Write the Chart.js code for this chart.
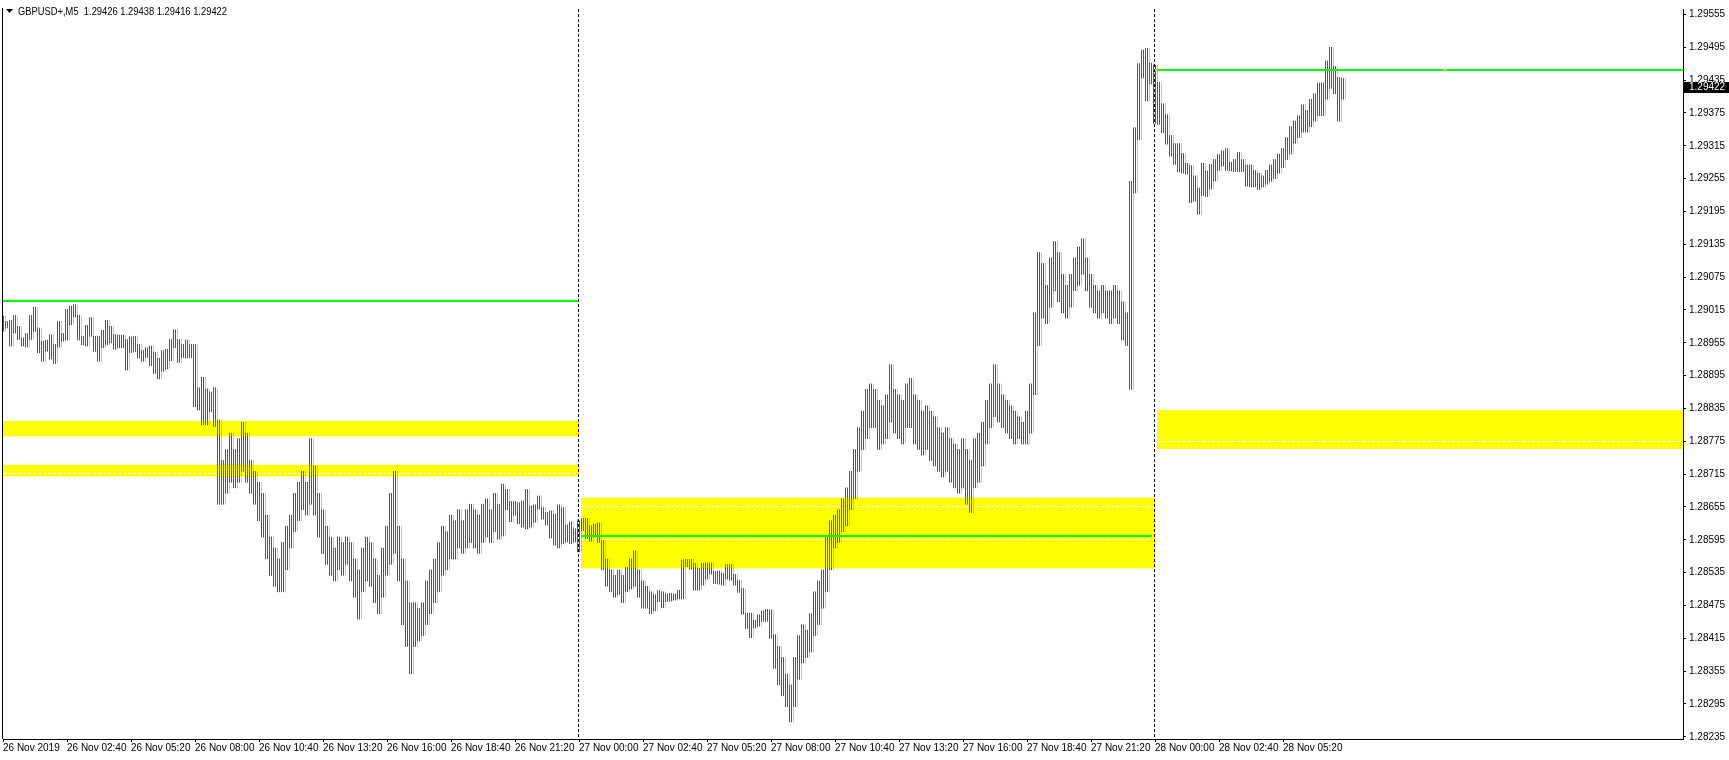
<!DOCTYPE html>
<html><head><meta charset="utf-8">
<script src="https://cdn.jsdelivr.net/npm/chart.js@4.4.1/dist/chart.umd.min.js"></script>
<style>html,body{margin:0;padding:0;background:#fff;overflow:hidden}</style>
</head><body>
<canvas id="c" width="1729" height="760"></canvas>
<script>
// ---- data (10-minute bars, 26 Nov 2019 00:00 onwards) ----
const barHigh = [
1.29004,1.28994,1.28996,1.29005,1.28985,1.28964,1.28972,1.29005,1.29020,1.28982,
1.28958,1.28960,1.28970,1.28952,1.28994,1.28972,1.29016,1.29022,1.29025,1.29005,
1.28967,1.28987,1.29001,1.28967,1.28967,1.28978,1.28996,1.28985,1.28970,1.28969,
1.28969,1.28961,1.28966,1.28967,1.28952,1.28941,1.28946,1.28949,1.28938,1.28927,
1.28941,1.28943,1.28961,1.28979,1.28961,1.28952,1.28960,1.28952,1.28952,1.28873,
1.28892,1.28871,1.28865,1.28873,1.28814,1.28740,1.28760,1.28790,1.28760,1.28780,
1.28810,1.28790,1.28740,1.28720,1.28700,1.28680,1.28640,1.28600,1.28580,1.28560,
1.28590,1.28620,1.28640,1.28680,1.28700,1.28720,1.28700,1.28780,1.28730,1.28680,
1.28650,1.28620,1.28600,1.28580,1.28600,1.28590,1.28600,1.28590,1.28560,1.28540,
1.28580,1.28600,1.28590,1.28560,1.28530,1.28580,1.28620,1.28680,1.28720,1.28620,
1.28560,1.28520,1.28480,1.28480,1.28470,1.28480,1.28520,1.28540,1.28560,1.28590,
1.28620,1.28610,1.28640,1.28630,1.28650,1.28630,1.28650,1.28660,1.28650,1.28640,
1.28660,1.28670,1.28650,1.28680,1.28660,1.28697,1.28687,1.28665,1.28665,1.28663,
1.28666,1.28687,1.28657,1.28659,1.28675,1.28654,1.28645,1.28648,1.28642,1.28659,
1.28654,1.28622,1.28628,1.28615,1.28630,1.28634,1.28634,1.28621,1.28624,1.28626,
1.28594,1.28560,1.28540,1.28530,1.28540,1.28530,1.28545,1.28560,1.28575,1.28540,
1.28520,1.28510,1.28500,1.28495,1.28502,1.28500,1.28496,1.28497,1.28496,1.28503,
1.28558,1.28559,1.28559,1.28552,1.28543,1.28552,1.28553,1.28553,1.28537,1.28538,
1.28534,1.28550,1.28550,1.28532,1.28521,1.28506,1.28461,1.28461,1.28448,1.28458,
1.28465,1.28468,1.28467,1.28422,1.28400,1.28380,1.28350,1.28330,1.28380,1.28420,
1.28440,1.28430,1.28460,1.28500,1.28520,1.28540,1.28600,1.28630,1.28640,1.28650,
1.28670,1.28690,1.28720,1.28760,1.28800,1.28830,1.28870,1.28880,1.28870,1.28850,
1.28840,1.28860,1.28915,1.28870,1.28860,1.28850,1.28880,1.28890,1.28860,1.28850,
1.28830,1.28840,1.28830,1.28820,1.28800,1.28790,1.28800,1.28780,1.28770,1.28760,
1.28780,1.28760,1.28740,1.28780,1.28790,1.28810,1.28850,1.28880,1.28915,1.28880,
1.28860,1.28850,1.28840,1.28830,1.28820,1.28810,1.28830,1.28880,1.29010,1.29120,
1.29100,1.29060,1.29110,1.29140,1.29120,1.29080,1.29060,1.29080,1.29110,1.29130,
1.29145,1.29110,1.29080,1.29060,1.29050,1.29060,1.29050,1.29050,1.29060,1.29050,
1.29030,1.29010,1.29250,1.29348,1.29465,1.29490,1.29493,1.29466,1.29462,1.29431,
1.29392,1.29372,1.29334,1.29319,1.29319,1.29301,1.29283,1.29279,1.29260,1.29238,
1.29283,1.29269,1.29281,1.29290,1.29299,1.29306,1.29310,1.29285,1.29290,1.29303,
1.29290,1.29280,1.29280,1.29270,1.29265,1.29260,1.29270,1.29280,1.29290,1.29300,
1.29310,1.29330,1.29350,1.29360,1.29370,1.29390,1.29380,1.29400,1.29410,1.29430,
1.29430,1.29470,1.29495,1.29460,1.29440,1.29438
];
const barLow = [
1.28976,1.28982,1.28949,1.28973,1.28961,1.28949,1.28947,1.28961,1.28976,1.28937,
1.28921,1.28940,1.28925,1.28917,1.28947,1.28958,1.28960,1.28988,1.29002,1.28960,
1.28951,1.28949,1.28967,1.28939,1.28921,1.28946,1.28951,1.28955,1.28943,1.28946,
1.28946,1.28905,1.28937,1.28939,1.28927,1.28921,1.28928,1.28913,1.28899,1.28889,
1.28903,1.28907,1.28922,1.28946,1.28919,1.28928,1.28927,1.28928,1.28838,1.28832,
1.28805,1.28805,1.28829,1.28802,1.28660,1.28660,1.28680,1.28700,1.28690,1.28700,
1.28720,1.28700,1.28680,1.28660,1.28630,1.28600,1.28560,1.28530,1.28510,1.28500,
1.28500,1.28540,1.28580,1.28610,1.28630,1.28650,1.28640,1.28660,1.28640,1.28600,
1.28570,1.28550,1.28530,1.28520,1.28540,1.28530,1.28550,1.28520,1.28490,1.28450,
1.28500,1.28520,1.28510,1.28480,1.28460,1.28490,1.28530,1.28550,1.28570,1.28520,
1.28440,1.28400,1.28350,1.28400,1.28410,1.28420,1.28440,1.28460,1.28480,1.28500,
1.28530,1.28540,1.28560,1.28560,1.28580,1.28570,1.28580,1.28590,1.28580,1.28570,
1.28590,1.28600,1.28590,1.28610,1.28596,1.28602,1.28650,1.28628,1.28640,1.28624,
1.28618,1.28615,1.28618,1.28627,1.28651,1.28633,1.28622,1.28598,1.28585,1.28580,
1.28588,1.28591,1.28588,1.28591,1.28573,1.28612,1.28597,1.28592,1.28600,1.28590,
1.28540,1.28510,1.28500,1.28490,1.28495,1.28480,1.28500,1.28505,1.28510,1.28490,
1.28470,1.28470,1.28460,1.28465,1.28482,1.28471,1.28482,1.28483,1.28485,1.28487,
1.28487,1.28546,1.28541,1.28503,1.28503,1.28512,1.28523,1.28532,1.28515,1.28514,
1.28512,1.28523,1.28521,1.28512,1.28499,1.28459,1.28433,1.28416,1.28434,1.28437,
1.28446,1.28446,1.28415,1.28360,1.28330,1.28310,1.28290,1.28262,1.28290,1.28340,
1.28370,1.28380,1.28390,1.28420,1.28440,1.28470,1.28500,1.28540,1.28580,1.28590,
1.28610,1.28620,1.28650,1.28670,1.28720,1.28760,1.28780,1.28800,1.28800,1.28760,
1.28770,1.28780,1.28810,1.28790,1.28780,1.28770,1.28800,1.28800,1.28770,1.28760,
1.28750,1.28760,1.28740,1.28730,1.28720,1.28710,1.28720,1.28700,1.28690,1.28680,
1.28690,1.28660,1.28645,1.28690,1.28700,1.28730,1.28770,1.28800,1.28820,1.28810,
1.28800,1.28790,1.28780,1.28770,1.28780,1.28770,1.28770,1.28790,1.28860,1.28950,
1.29000,1.28990,1.29020,1.29050,1.29030,1.29010,1.29000,1.29020,1.29050,1.29060,
1.29080,1.29050,1.29020,1.29010,1.29000,1.29010,1.29000,1.28990,1.29000,1.28990,
1.28960,1.28950,1.28870,1.29229,1.29326,1.29439,1.29397,1.29428,1.29356,1.29354,
1.29339,1.29318,1.29296,1.29281,1.29267,1.29265,1.29263,1.29211,1.29214,1.29190,
1.29224,1.29222,1.29236,1.29251,1.29270,1.29278,1.29270,1.29269,1.29268,1.29268,
1.29268,1.29241,1.29240,1.29240,1.29235,1.29240,1.29245,1.29250,1.29255,1.29265,
1.29275,1.29290,1.29300,1.29320,1.29330,1.29340,1.29340,1.29350,1.29360,1.29370,
1.29370,1.29400,1.29420,1.29410,1.29360,1.29400
];
const tickIndex = [0,16,32,48,64,80,96,112,128,144,160,176,192,208,224,240,256,272,288,304,320];
const tickLabels = ["26 Nov 2019","26 Nov 02:40","26 Nov 05:20","26 Nov 08:00","26 Nov 10:40","26 Nov 13:20","26 Nov 16:00","26 Nov 18:40","26 Nov 21:20",
 "27 Nov 00:00","27 Nov 02:40","27 Nov 05:20","27 Nov 08:00","27 Nov 10:40","27 Nov 13:20","27 Nov 16:00","27 Nov 18:40","27 Nov 21:20",
 "28 Nov 00:00","28 Nov 02:40","28 Nov 05:20"];
const yTicks = [1.28235,1.28295,1.28355,1.28415,1.28475,1.28535,1.28595,1.28655,1.28715,1.28775,1.28835,1.28895,
 1.28955,1.29015,1.29075,1.29135,1.29195,1.29255,1.29315,1.29375,1.29435,1.29495,1.29555];
const yMin = 1.28231, yMax = 1.29565;
const slotCount = 421;
// zones (rectangles): time index range and price range
const zoneFrom = [0, 0, 144.5, 288.5];
const zoneTo = [144, 144, 288, 420];
const zoneTop = [1.28812, 1.28732, 1.28672, 1.28832];
const zoneBottom = [1.28784, 1.28711, 1.28543, 1.28761];
// white dashed levels
const dashLevel = [1.28717, 1.28656, 1.28596, 1.28776];
const dashFrom = [0, 144.5, 144.5, 288.5];
const dashTo = [144, 288, 288, 420];
// green levels
const greenLevel = [1.29032, 1.28602, 1.29453];
const greenFrom = [0, 144.5, 288.5];
const greenTo = [144, 287, 420];
// small anchor markers on the last green level
const anchorIndex = [288, 360.25];
const anchorLevel = [1.29453, 1.29453];
const separators = [144, 288];
const lastPrice = 1.29422;
const titleText = "GBPUSD+,M5  1.29426 1.29438 1.29416 1.29422";

// categories: 10-minute slots
const categories = [];
for (let i = 0; i < slotCount; i++) {
  const m = i * 10, d = 26 + Math.floor(m / 1440), hh = Math.floor((m % 1440) / 60), mm = m % 60;
  categories.push(d + " Nov " + String(hh).padStart(2, "0") + ":" + String(mm).padStart(2, "0"));
}

// striped fill: 1px line every 2px (odd pixel columns), like M5 bar lines
const pc = document.createElement('canvas'); pc.width = 2; pc.height = 2;
const pctx = pc.getContext('2d'); pctx.fillStyle = '#e8161b'; pctx.fillRect(1, 0, 1, 2);
const mainCtx = document.getElementById('c').getContext('2d');
mainCtx.imageSmoothingEnabled = false;
const barFill = mainCtx.createPattern(pc, 'repeat');

const FONT = '"Liberation Sans", Arial, sans-serif';
const overlay = {
  id: 'overlay',
  beforeDatasetsDraw(chart) {
    const {ctx, chartArea: a, scales: {x, y}} = chart;
    ctx.save();
    ctx.beginPath(); ctx.rect(a.left, a.top, a.right - a.left, a.bottom - a.top); ctx.clip();
    ctx.fillStyle = '#ffff00';
    zoneTop.forEach((t, k) => {
      const x0 = x.getPixelForValue(zoneFrom[k]), x1 = x.getPixelForValue(zoneTo[k]);
      const y0 = y.getPixelForValue(t), y1 = y.getPixelForValue(zoneBottom[k]);
      ctx.fillRect(x0, y0, x1 - x0, y1 - y0);
    });
    ctx.strokeStyle = '#ffffff'; ctx.lineWidth = 1; ctx.setLineDash([3, 2]);
    dashLevel.forEach((p, k) => {
      const yy = Math.round(y.getPixelForValue(p)) + 0.5;
      ctx.beginPath(); ctx.moveTo(x.getPixelForValue(dashFrom[k]), yy); ctx.lineTo(x.getPixelForValue(dashTo[k]), yy); ctx.stroke();
    });
    ctx.restore();
    ctx.imageSmoothingEnabled = false;
  },
  afterDatasetsDraw(chart) {
    const {ctx, chartArea: a, scales: {x, y}} = chart;
    ctx.save();
    ctx.beginPath(); ctx.rect(a.left - 2, a.top - 1, a.right - a.left + 2, a.bottom - a.top + 1); ctx.clip();
    ctx.strokeStyle = '#00ff00'; ctx.lineWidth = 2; ctx.setLineDash([]);
    greenLevel.forEach((p, k) => {
      const yy = Math.round(y.getPixelForValue(p));
      ctx.beginPath(); ctx.moveTo(x.getPixelForValue(greenFrom[k]), yy); ctx.lineTo(x.getPixelForValue(greenTo[k]), yy); ctx.stroke();
    });
    ctx.fillStyle = '#ffd800';
    anchorIndex.forEach((v, k) => {
      const ax = Math.round(x.getPixelForValue(v)), ay = Math.round(y.getPixelForValue(anchorLevel[k]));
      ctx.fillRect(ax - 1, ay - 1, 3, 2);
    });
    ctx.strokeStyle = '#000'; ctx.lineWidth = 1; ctx.setLineDash([3, 2]);
    separators.forEach(s => {
      const xx = Math.round(x.getPixelForValue(s)) - 0.5;
      ctx.beginPath(); ctx.moveTo(xx, a.top); ctx.lineTo(xx, a.bottom); ctx.stroke();
    });
    ctx.setLineDash([]);
    ctx.beginPath(); ctx.moveTo(2.5, 0); ctx.lineTo(2.5, a.bottom); ctx.stroke();
    ctx.restore();
  },
  afterDraw(chart) {
    const {ctx, chartArea: a, scales: {y}} = chart;
    ctx.save();
    const py = Math.round(y.getPixelForValue(lastPrice));
    ctx.fillStyle = '#000';
    ctx.fillRect(a.right + 1, py - 5, 1729 - a.right - 1, 11);
    ctx.fillStyle = '#fff'; ctx.font = '10px ' + FONT; ctx.textBaseline = 'middle'; ctx.textAlign = 'left';
    ctx.fillText(lastPrice.toFixed(5), a.right + 6, py + 0.5);
    ctx.fillStyle = '#000';
    ctx.beginPath(); ctx.moveTo(6, 9); ctx.lineTo(13, 9); ctx.lineTo(9.5, 13); ctx.closePath(); ctx.fill();
    ctx.textBaseline = 'alphabetic';
    ctx.fillText(titleText, 18, 15, 209);
    ctx.restore();
  }
};

new Chart(mainCtx, {
  type: 'bar',
  data: {
    labels: categories,
    datasets: [{
      data: barHigh.map((h, i) => [barLow[i], h]),
      backgroundColor: barFill,
      borderWidth: 0,
      barThickness: 4,
      grouped: false
    }]
  },
  options: {
    responsive: false, animation: false, devicePixelRatio: 1,
    layout: {padding: {left: 3, top: 1, right: 0, bottom: 0}},
    plugins: {legend: {display: false}, tooltip: {enabled: false}},
    scales: {
      x: {
        type: 'category', offset: false,
        grid: {display: true, offset: false, drawOnChartArea: false, drawTicks: true, tickLength: 3, color: '#000'},
        border: {display: true, color: '#000', width: 1},
        ticks: {autoSkip: false, maxRotation: 0, minRotation: 0, align: 'start', padding: 0, color: '#000',
          font: {family: FONT, size: 10},
          callback: (v) => { const k = tickIndex.indexOf(v); return k < 0 ? null : tickLabels[k]; }},
        afterBuildTicks: s => { s.ticks = tickIndex.map(v => ({value: v})); },
        afterFit: s => { s.height = 21; }
      },
      y: {
        position: 'right', min: yMin, max: yMax,
        grid: {display: true, drawOnChartArea: false, drawTicks: true, tickLength: 3, color: '#000'},
        border: {display: true, color: '#000', width: 1},
        ticks: {padding: 3, color: '#000', font: {family: FONT, size: 10}, callback: v => Number(v).toFixed(5)},
        afterBuildTicks: s => { s.ticks = yTicks.map(v => ({value: v})); },
        afterFit: s => { s.width = 46; }
      }
    }
  },
  plugins: [overlay]
});
</script>
</body></html>
